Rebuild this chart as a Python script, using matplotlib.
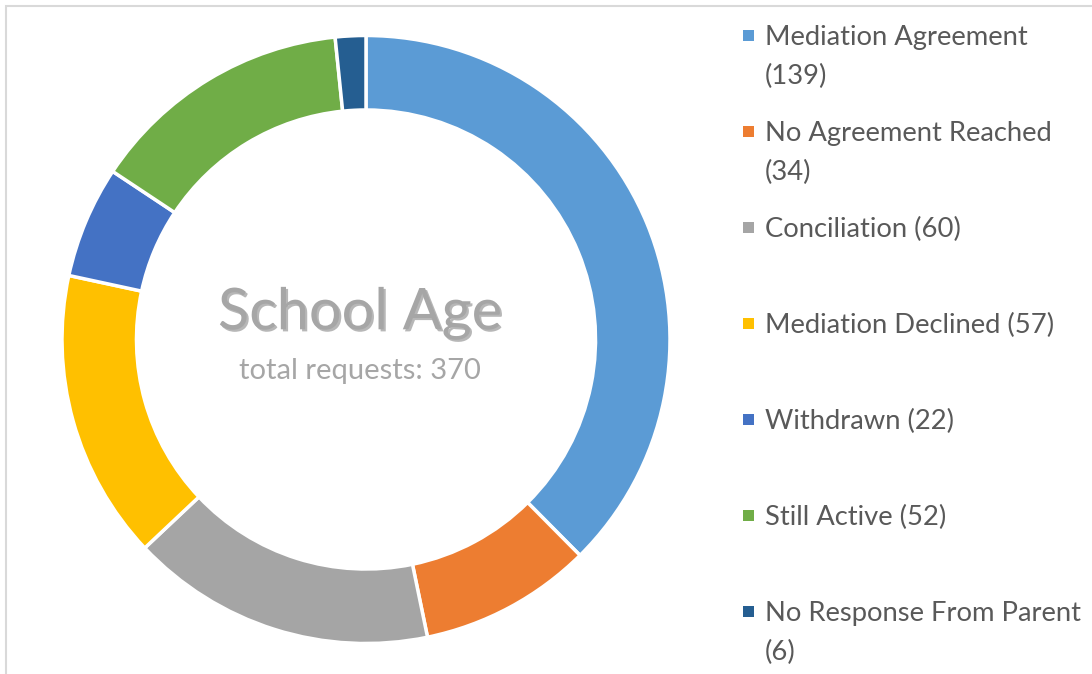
import matplotlib
matplotlib.use("Agg")
import matplotlib.pyplot as plt
import matplotlib.patheffects as pe
from matplotlib.patches import Rectangle

categories = ["Mediation Agreement", "No Agreement Reached", "Conciliation",
              "Mediation Declined", "Withdrawn", "Still Active", "No Response From Parent"]
values = [139, 34, 60, 57, 22, 52, 6]
colors = ["#5b9bd5", "#ed7d31", "#a5a5a5", "#ffc000", "#4472c4", "#70ad47", "#255e91"]
# legend labels wrap like the original
legend_labels = ["Mediation Agreement\n(139)", "No Agreement Reached\n(34)", "Conciliation (60)",
                 "Mediation Declined (57)", "Withdrawn (22)", "Still Active (52)",
                 "No Response From Parent\n(6)"]
title = "School Age"
subtitle = "total requests: 370"

W, H = 1092, 674
fig = plt.figure(figsize=(W / 100, H / 100), dpi=100)
plt.rcParams['font.family'] = ['Lato', 'DejaVu Sans']

def fx(px):
    return px / W

def fy(py):
    return 1 - py / H

# light border of the chart area
fig.patches.append(Rectangle((fx(5.5), fy(700)), fx(1200), fy(5.5) - fy(700),
                             transform=fig.transFigure, fill=False,
                             edgecolor="#d9d9d9", linewidth=1.5))

cx, cy, r = 366, 339.5, 304
ax = fig.add_axes([fx(cx - r), fy(cy + r), 2 * r / W, 2 * r / H])
ax.pie(values, colors=colors, startangle=90, counterclock=False, radius=1,
       wedgeprops=dict(width=0.245, edgecolor="white", linewidth=2.5))
ax.set_xlim(-1, 1)
ax.set_ylim(-1, 1)
ax.set_aspect("equal")
ax.axis("off")

ax.text(-0.02, 0.087, title, ha="center", va="center", fontsize=41.5, color="#a6a6a6",
        path_effects=[pe.withSimplePatchShadow(offset=(1.5, -1.5), alpha=0.35)])
ax.text(-0.02, -0.105, subtitle, ha="center", va="center", fontsize=21, color="#a6a6a6")

# legend, drawn by hand to keep the original spacing
y0, step, line_gap = 35.5, 96, 39
for i, (lab, c) in enumerate(zip(legend_labels, colors)):
    y = y0 + i * step
    fig.patches.append(Rectangle((fx(743), fy(y + 5.5)), fx(11), fy(y - 5.5) - fy(y + 5.5),
                                 transform=fig.transFigure, facecolor=c, edgecolor="none"))
    for k, line in enumerate(lab.split("\n")):
        fig.text(fx(765), fy(y + 9.5 + k * line_gap), line, ha="left", va="baseline",
                 fontsize=19.7, color="#595959")

fig.savefig("out.png", dpi=100)
